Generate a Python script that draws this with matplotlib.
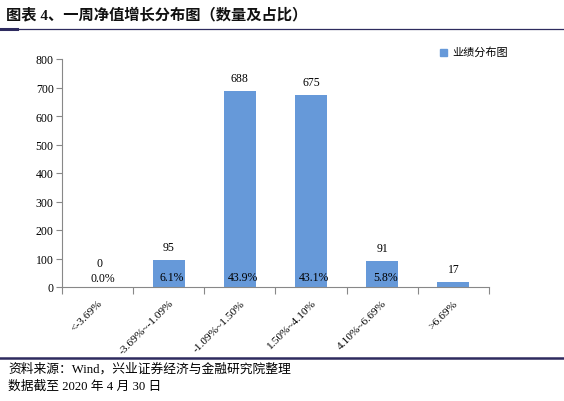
import matplotlib.pyplot as plt
import numpy as np

plt.rcParams['font.family'] = ['Liberation Serif', 'Noto Sans CJK SC']

# data
categories = ["<-3.69%", "-3.69%~-1.09%", "-1.09%~1.50%", "1.50%~4.10%", "4.10%~6.69%", ">6.69%"]
counts = [0, 95, 688, 675, 91, 17]
shares = ["0.0%", "6.1%", "43.9%", "43.1%", "5.8%", ""]
bar_color = '#6699D9'
navy = '#2E2B5F'

fig = plt.figure(figsize=(5.64, 4.02), dpi=100)
W, H = 564, 402

# title and rules
fig.text(6 / W, 1 - 15 / H, "图表 4、一周净值增长分布图（数量及占比）", fontsize=11,
         fontweight='bold', va='center', ha='left', color='#111111')
fig.add_artist(plt.Line2D([0, 1], [1 - 30 / H] * 2, color=navy, lw=0.9))
fig.add_artist(plt.Line2D([0, 17 / W], [1 - 30 / H] * 2, color=navy, lw=2.2))
fig.add_artist(plt.Line2D([0, 1], [1 - 359 / H] * 2, color=navy, lw=1.8))
fig.text(8 / W, 1 - 369 / H, "资料来源：Wind，兴业证券经济与金融研究院整理", fontsize=9.2, va='center')
fig.text(8 / W, 1 - 387 / H, "数据截至 2020 年 4 月 30 日", fontsize=9.2, va='center')

ax = fig.add_axes([62 / W, 1 - 288 / H, (489 - 62) / W, (288 - 60) / H])
x = np.arange(len(categories))
ax.bar(x, counts, width=0.45, color=bar_color, zorder=2)

for xi, c, s in zip(x, counts, shares):
    if c == 0:
        ax.text(xi + 0.02, 85, str(c), ha='center', va='center', fontsize=8.5)
        ax.text(xi + 0.07, 30, s, ha='center', va='center', fontsize=8.5)
        continue
    ax.text(xi, c + 45, str(c), ha='center', va='center', fontsize=8.5)
    if s:
        ax.text(xi + 0.04, 36, s, ha='center', va='center', fontsize=8.5)

ax.set_xlim(-0.5, len(categories) - 0.5)
ax.set_ylim(0, 800)
ax.set_yticks(range(0, 801, 100))
ax.set_xticks(np.arange(-0.5, len(categories), 1.0))
ax.set_xticklabels([])
ax.set_xticks(x, minor=True)
ax.set_xticklabels(categories, minor=True, rotation=45, ha='right', rotation_mode='anchor',
                   fontsize=8.2)
ax.tick_params(axis='x', which='minor', length=0, pad=8)
ax.tick_params(axis='x', which='major', length=5, color='#888888', direction='out')
ax.tick_params(axis='y', length=4, color='#888888', labelsize=8.5, pad=2)
for sp in ['top', 'right']:
    ax.spines[sp].set_visible(False)
for sp in ['left', 'bottom']:
    ax.spines[sp].set_color('#888888')

# legend
fig.patches.append(plt.Rectangle((440 / W, 1 - 57 / H), 7 / W, 7 / H, color=bar_color,
                                 transform=fig.transFigure))
fig.text(452 / W, 1 - 53 / H, "业绩分布图", fontsize=8, va='center')

fig.savefig("out.png", dpi=100)
